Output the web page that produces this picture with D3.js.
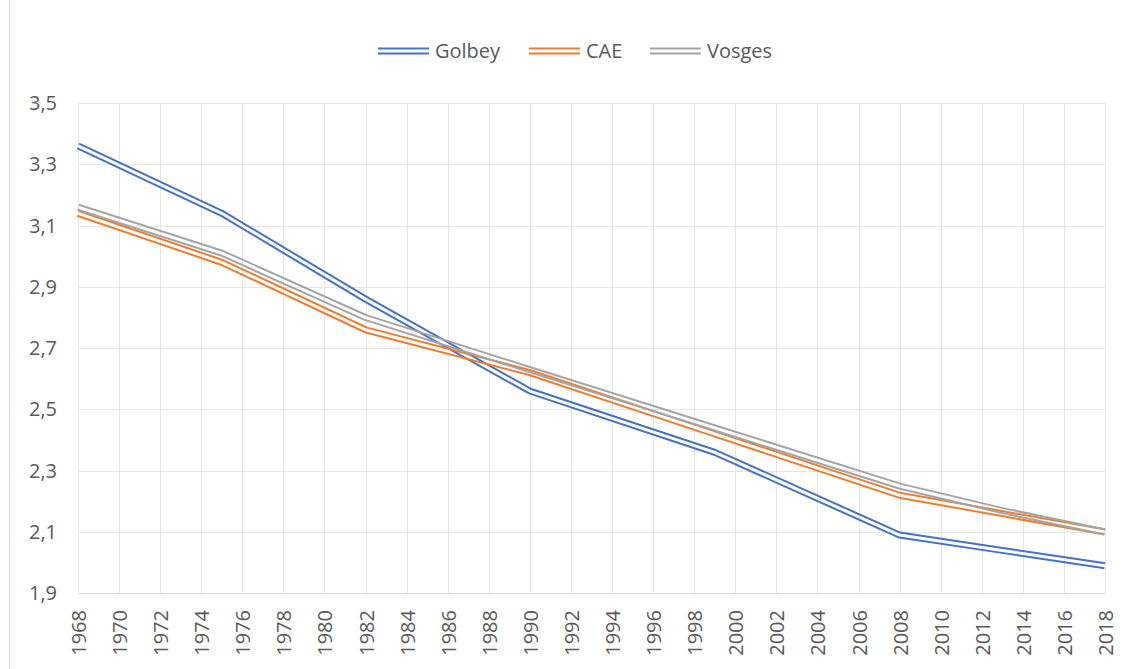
<!DOCTYPE html>
<html><head><meta charset="utf-8">
<script src="https://cdn.jsdelivr.net/npm/d3@7"></script>
<style>body{margin:0;background:#fff}svg{display:block}text{font-family:"Open Sans",sans-serif;fill:#595959}</style>
</head><body>
<script>
const years = [1968, 1975, 1982, 1990, 1999, 2008, 2013, 2018];
const golbey = [3.36, 3.14, 2.86, 2.56, 2.36, 2.09, 2.04, 1.99];
const cae = [3.14, 2.98, 2.76, 2.62, 2.42, 2.22, 2.16, 2.10];
const vosges = [3.16, 3.01, 2.80, 2.63, 2.44, 2.25, 2.17, 2.10];
const seriesNames = ["Golbey", "CAE", "Vosges"];
const seriesColors = ["#4472C4", "#ED7D31", "#A5A5A5"];
const yTicks = [1.9, 2.1, 2.3, 2.5, 2.7, 2.9, 3.1, 3.3, 3.5];
const xTicks = d3.range(1968, 2019, 2);

const W = 1123, H = 669;
const svg = d3.select("body").append("svg").attr("width", W).attr("height", H);
svg.append("rect").attr("x", 9.5).attr("y", -2).attr("width", 1130).attr("height", 680)
  .attr("fill", "#fff").attr("stroke", "#d9d9d9");

const x = d3.scaleLinear().domain([1968, 2018]).range([78, 1105]);
const y = d3.scaleLinear().domain([1.9, 3.5]).range([593.3, 103]);

// gridlines
const g = svg.append("g");
g.selectAll(".hg").data(yTicks.slice(1)).join("line")
  .attr("x1", x(1968)).attr("x2", x(2018))
  .attr("y1", d => Math.round(y(d)) + 0.5).attr("y2", d => Math.round(y(d)) + 0.5)
  .attr("stroke", "#e6e6e6");
g.selectAll(".vg").data(xTicks).join("line")
  .attr("x1", d => Math.round(x(d)) + 0.5).attr("x2", d => Math.round(x(d)) + 0.5)
  .attr("y1", y(3.5)).attr("y2", y(1.9))
  .attr("stroke", "#e6e6e6");
g.append("line").attr("x1", x(1968)).attr("x2", x(2018))
  .attr("y1", Math.round(y(1.9)) + 0.5).attr("y2", Math.round(y(1.9)) + 0.5)
  .attr("stroke", "#d9d9d9");

// y labels
const fmt = d => d.toFixed(1).replace(".", ",");
svg.selectAll(".yl").data(yTicks).join("text")
  .attr("x", 57).attr("y", d => y(d)).attr("dy", "0.35em")
  .attr("text-anchor", "end").style("font-size", "20px").text(fmt);

// x labels
svg.selectAll(".xl").data(xTicks).join("text")
  .attr("transform", d => `translate(${x(d) + 1},610) rotate(-90)`)
  .attr("dy", "0.35em").attr("text-anchor", "end").style("font-size", "20px").text(d => d);

const defs = svg.append("defs");
const OUT = 7, IN = 3;
function doubleLine(id, d, color) {
  const m = defs.append("mask").attr("id", id).attr("maskUnits", "userSpaceOnUse")
    .attr("x", 0).attr("y", 0).attr("width", W).attr("height", H);
  m.append("path").attr("d", d).attr("fill", "none").attr("stroke", "#fff")
    .attr("stroke-width", OUT + 2).attr("stroke-linejoin", "round");
  m.append("path").attr("d", d).attr("fill", "none").attr("stroke", "#000")
    .attr("stroke-width", IN).attr("stroke-linejoin", "round");
  svg.append("path").attr("d", d).attr("fill", "none").attr("stroke", color)
    .attr("stroke-width", OUT).attr("stroke-linejoin", "round").attr("mask", `url(#${id})`);
}

const line = d3.line().x(d => x(d[0])).y(d => y(d[1]));
const allSeries = [golbey, cae, vosges];
allSeries.forEach((vals, i) => {
  const pts = years.map((yr, j) => [yr, vals[j]]);
  doubleLine("m" + i, line(pts), seriesColors[i]);
});

// legend
const legX = [378, 529, 650];
seriesNames.forEach((n, i) => {
  const d = `M${legX[i]},51 L${legX[i] + 51},51`;
  doubleLine("lm" + i, d, seriesColors[i]);
  svg.append("text").attr("x", legX[i] + 57).attr("y", 51).attr("dy", "0.35em")
    .style("font-size", "20px").text(n);
});
</script>
</body></html>
